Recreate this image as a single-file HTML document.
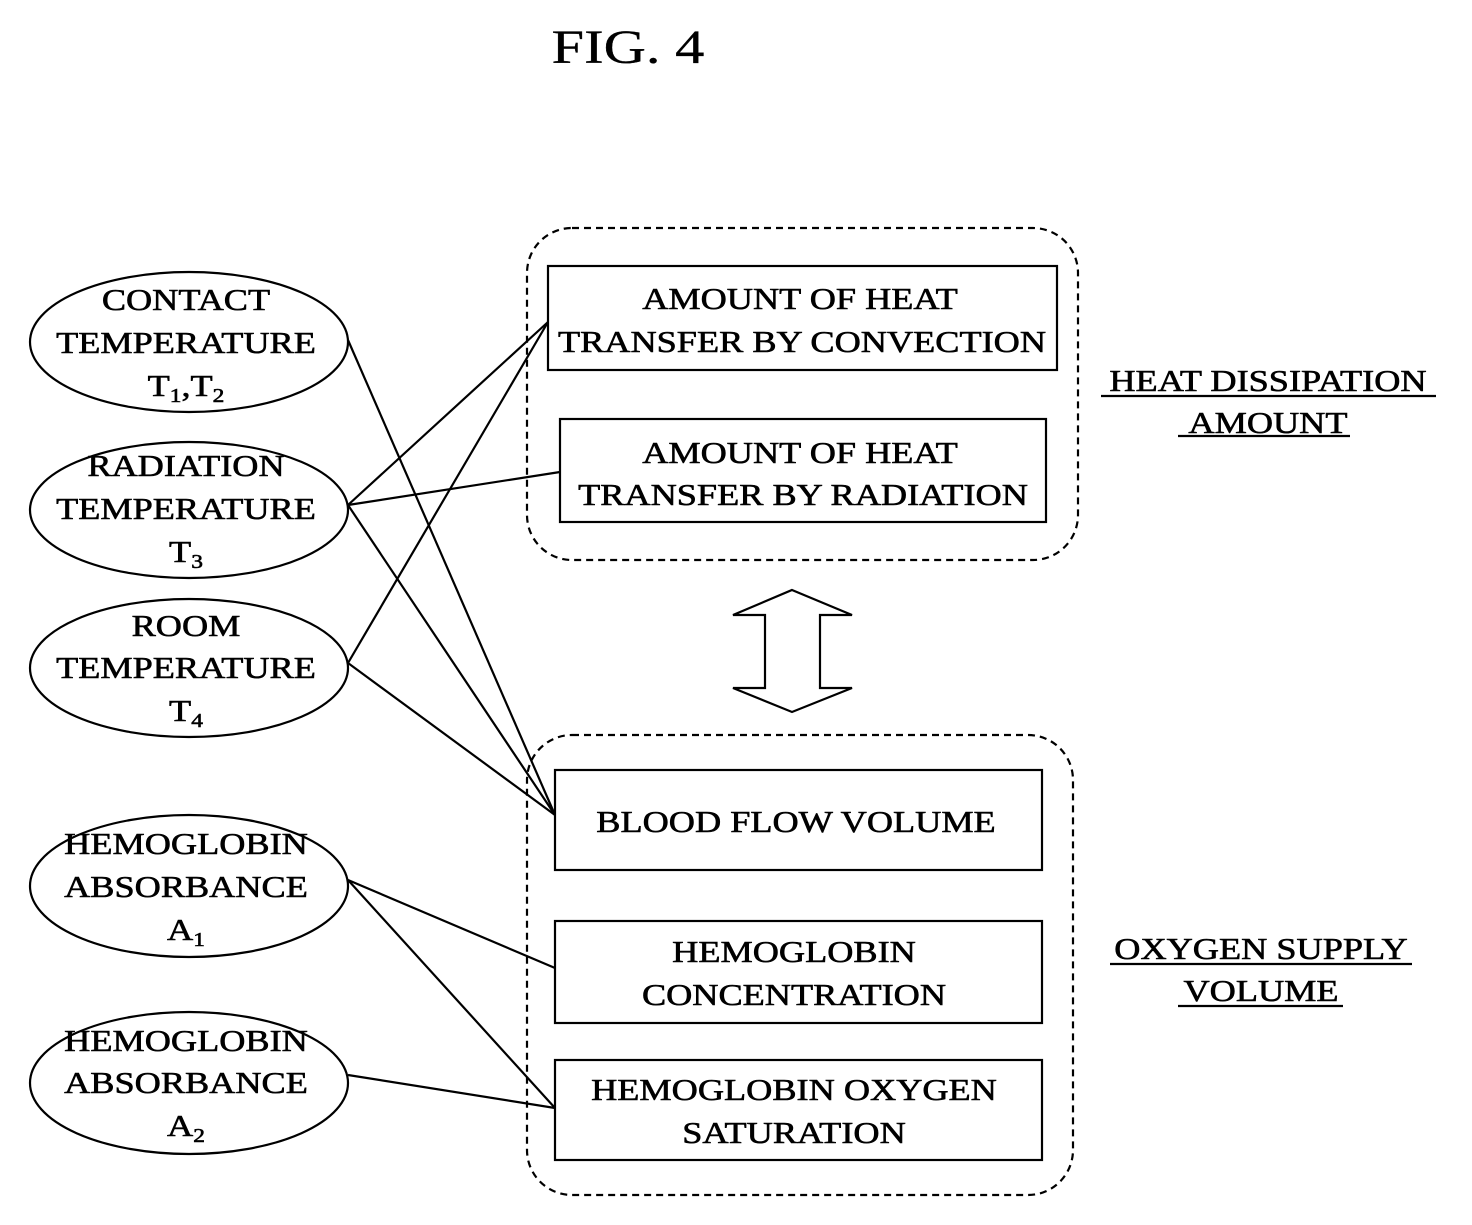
<!DOCTYPE html>
<html><head><meta charset="utf-8"><style>
html,body{margin:0;padding:0;background:#fff}
svg{display:block}
text{font-family:"Liberation Serif",serif;fill:#000;stroke:#000;stroke-width:0.6;transform-box:fill-box;transform-origin:center;transform:scaleX(1.17)}
</style></head><body>
<svg width="1472" height="1225" viewBox="0 0 1472 1225" xmlns="http://www.w3.org/2000/svg">
<text x="628" y="63" font-size="48" text-anchor="middle" style="transform:scaleX(1.22);stroke-width:0.3">FIG. 4</text>
<g fill="none" stroke="#000" stroke-width="2.2">
<rect x="527" y="228" width="551" height="332" rx="45" stroke-dasharray="7,5"/>
<rect x="527" y="735" width="546" height="460" rx="45" stroke-dasharray="7,5"/>
<rect x="548" y="266" width="509" height="104"/>
<rect x="560" y="419" width="486" height="103"/>
<rect x="555" y="770" width="487" height="100"/>
<rect x="555" y="921" width="487" height="102"/>
<rect x="555" y="1060" width="487" height="100"/>
<ellipse cx="189" cy="342" rx="159" ry="70"/>
<ellipse cx="189" cy="510" rx="159" ry="68"/>
<ellipse cx="189" cy="668" rx="159" ry="69"/>
<ellipse cx="189" cy="886" rx="159" ry="71"/>
<ellipse cx="189" cy="1083" rx="159" ry="71"/>
<line x1="348" y1="340" x2="555" y2="815"/>
<line x1="348" y1="505" x2="548" y2="322"/>
<line x1="348" y1="505" x2="560" y2="472"/>
<line x1="348" y1="505" x2="555" y2="815"/>
<line x1="348" y1="663" x2="548" y2="322"/>
<line x1="348" y1="663" x2="555" y2="815"/>
<line x1="348" y1="880" x2="555" y2="968"/>
<line x1="348" y1="880" x2="555" y2="1108"/>
<line x1="348" y1="1075" x2="555" y2="1108"/>
<polygon points="792,590 852,615 820,615 820,688 852,688 792,712 733,688 765,688 765,615 733,615"/>
<line x1="1101" y1="396" x2="1436" y2="396"/>
<line x1="1178" y1="436" x2="1350" y2="436"/>
<line x1="1110" y1="964" x2="1412" y2="964"/>
<line x1="1178" y1="1006" x2="1343" y2="1006"/>
</g>
<g font-size="31" text-anchor="middle">
<text x="186" y="310">CONTACT</text>
<text x="186" y="353">TEMPERATURE</text>
<text x="186" y="396">T<tspan font-size="20" dy="6">1</tspan><tspan dy="-6">,T</tspan><tspan font-size="20" dy="6">2</tspan></text>
<text x="186" y="476">RADIATION</text>
<text x="186" y="519">TEMPERATURE</text>
<text x="186" y="562">T<tspan font-size="20" dy="6">3</tspan></text>
<text x="186" y="636">ROOM</text>
<text x="186" y="678">TEMPERATURE</text>
<text x="186" y="721">T<tspan font-size="20" dy="6">4</tspan></text>
<text x="186" y="854">HEMOGLOBIN</text>
<text x="186" y="897">ABSORBANCE</text>
<text x="186" y="940">A<tspan font-size="20" dy="6">1</tspan></text>
<text x="186" y="1051">HEMOGLOBIN</text>
<text x="186" y="1093">ABSORBANCE</text>
<text x="186" y="1136">A<tspan font-size="20" dy="6">2</tspan></text>
<text x="800" y="309">AMOUNT OF HEAT</text>
<text x="802" y="352">TRANSFER BY CONVECTION</text>
<text x="800" y="463">AMOUNT OF HEAT</text>
<text x="803" y="505">TRANSFER BY RADIATION</text>
<text x="796" y="832">BLOOD FLOW VOLUME</text>
<text x="794" y="962">HEMOGLOBIN</text>
<text x="794" y="1005">CONCENTRATION</text>
<text x="794" y="1100">HEMOGLOBIN OXYGEN</text>
<text x="794" y="1143">SATURATION</text>
<text x="1268" y="391">HEAT DISSIPATION</text>
<text x="1268" y="433">AMOUNT</text>
<text x="1261" y="959">OXYGEN SUPPLY</text>
<text x="1261" y="1001">VOLUME</text>
</g>
</svg>
</body></html>
